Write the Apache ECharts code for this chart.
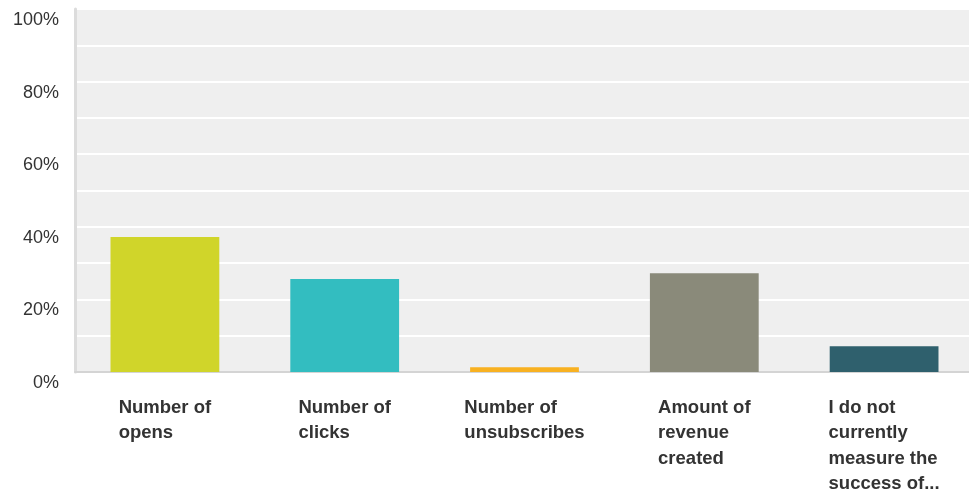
<!DOCTYPE html>
<html>
<head>
<meta charset="utf-8">
<script src="https://cdn.jsdelivr.net/npm/echarts@6/dist/echarts.min.js"></script>
<style>
  html, body { margin: 0; padding: 0; background: #ffffff; }
  #chart { width: 969px; height: 494px; }
</style>
</head>
<body>
<div id="chart"></div>
<script>
// Answer options (line breaks as shown under each bar)
const categories = [
  'Number of\nopens',
  'Number of\nclicks',
  'Number of\nunsubscribes',
  'Amount of\nrevenue\ncreated',
  'I do not\ncurrently\nmeasure the\nsuccess of...'
];
// Share of respondents, percent
const values = [37.2, 25.6, 1.3, 27.2, 7.1];
const barColors = ['#d0d52a', '#33bdc0', '#f8b121', '#8a8a7a', '#2f606d'];

const chart = echarts.init(document.getElementById('chart'), null, { renderer: 'canvas' });

chart.setOption({
  animation: false,
  grid: {
    left: 75,
    top: 9,
    width: 899,
    height: 363,
    outerBoundsMode: 'none',
    containLabel: false,
    show: true,
    backgroundColor: '#efefef',
    borderWidth: 0
  },
  xAxis: {
    type: 'category',
    data: categories,
    axisTick: { show: false },
    axisLine: { show: true, lineStyle: { color: '#d4d4d4', width: 2 } },
    axisLabel: {
      interval: 0,
      margin: 23,
      formatter: function (v) {
        return v.split('\n').map(function (s) { return '{l|' + s + '}'; }).join('\n');
      },
      rich: {
        l: {
          align: 'left',
          fontFamily: '"Liberation Sans", Arial, Helvetica, sans-serif',
          fontSize: 18.5,
          fontWeight: 'bold',
          color: '#333333',
          lineHeight: 25.5
        }
      }
    }
  },
  yAxis: {
    type: 'value',
    min: 0,
    max: 100,
    interval: 10,
    axisTick: { show: false },
    axisLine: { show: true, lineStyle: { color: '#dcdcdc', width: 3 } },
    splitLine: { show: true, lineStyle: { color: '#ffffff', width: 2 } },
    axisLabel: {
      margin: 16,
      verticalAlign: 'top',
      padding: [2, 0, 0, 0],
      fontFamily: '"Liberation Sans", Arial, Helvetica, sans-serif',
      fontSize: 18,
      color: '#333333',
      formatter: function (v) { return v % 20 === 0 ? v + '%' : ''; }
    }
  },
  series: [{
    type: 'bar',
    data: values.map(function (v, i) {
      return { value: v, itemStyle: { color: barColors[i] } };
    }),
    barCategoryGap: '39.5%'
  }]
});
</script>
</body>
</html>
